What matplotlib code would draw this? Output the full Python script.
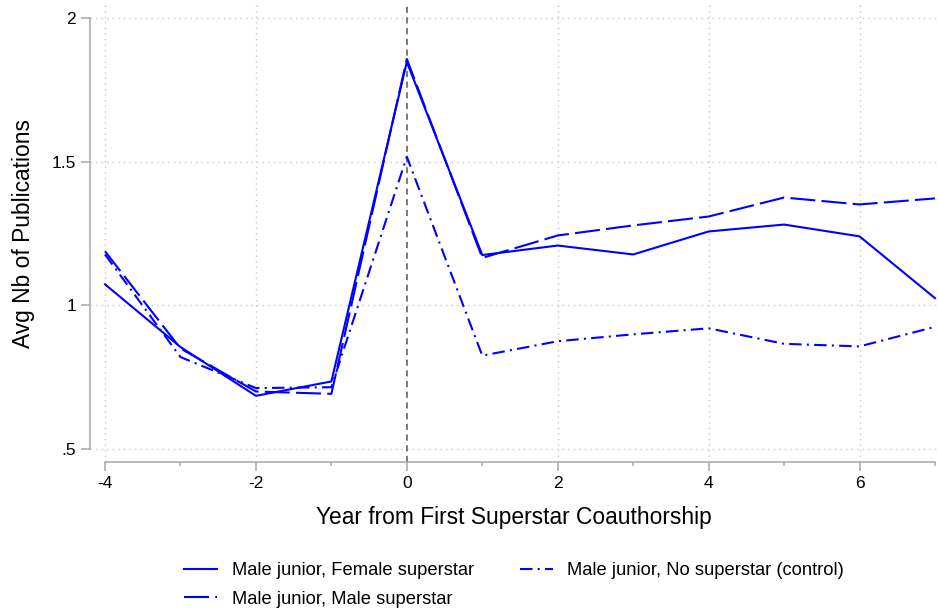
import matplotlib
matplotlib.use('Agg')
import matplotlib.pyplot as plt

plt.rcParams['font.family'] = ['Liberation Sans', 'DejaVu Sans']

# Years relative to first superstar coauthorship
years = [-4, -3, -2, -1, 0, 1, 2, 3, 4, 5, 6, 7]

# Average number of publications per group
female_star = [1.073, 0.855, 0.685, 0.735, 1.847, 1.175, 1.208, 1.177, 1.257, 1.281, 1.240, 1.025]
male_star = [1.188, 0.850, 0.700, 0.692, 1.857, 1.165, 1.243, 1.278, 1.309, 1.375, 1.351, 1.372]
control = [1.177, 0.820, 0.712, 0.715, 1.517, 0.825, 0.875, 0.899, 0.920, 0.866, 0.857, 0.925]

labels = ['Male junior, Female superstar', 'Male junior, Male superstar',
          'Male junior, No superstar (control)']

ytick_vals = [0.5, 1, 1.5, 2]
ytick_labels = ['.5', '1', '1.5', '2']
xtick_major = [-4, -2, 0, 2, 4, 6]
xtick_labels = ['-4', '-2', '0', '2', '4', '6']
xtick_minor = [-3, -1, 1, 3, 5, 7]

fig = plt.figure(figsize=(9.38, 6.10), dpi=100)
ax = fig.add_axes([90 / 938, 148 / 610, 848 / 938, 457 / 610])

# light dotted grid
for y in ytick_vals:
    ax.axhline(y, color='#c8c8c8', lw=1.0, ls=(0, (1, 3)), zorder=0)
for x in [-4, -2, 2, 4, 6]:
    ax.axvline(x, color='#c8c8c8', lw=1.0, ls=(0, (1, 3)), zorder=0)
ax.axvline(0, color='#555555', lw=1.1, ls=(0, (4, 3)), zorder=1)

blue = '#0000ff'
ax.plot(years, female_star, color=blue, lw=1.5, ls='-', label=labels[0], zorder=3)
ax.plot(years, male_star, color=blue, lw=1.5, ls=(0, (12, 3)), label=labels[1], zorder=3)
ax.plot(years, control, color=blue, lw=1.5, ls=(0, (6, 2.5, 1, 2.5)), label=labels[2], zorder=3)

ax.set_xlim(-4.199, 7.04)
ax.set_ylim(0.4548, 2.045)

for side in ['top', 'right']:
    ax.spines[side].set_visible(False)
ax.spines['left'].set_bounds(0.5, 2)
ax.spines['bottom'].set_bounds(-4, 7)
for side in ['left', 'bottom']:
    ax.spines[side].set_color('#a8a8a8')
    ax.spines[side].set_linewidth(1.1)

ax.set_yticks(ytick_vals)
ax.set_yticklabels(ytick_labels)
ax.set_xticks(xtick_major)
ax.set_xticklabels(xtick_labels)
ax.set_xticks(xtick_minor, minor=True)
ax.tick_params(axis='both', which='major', length=6.5, width=1.1, color='#a8a8a8',
               labelsize=12.5, pad=3.5)
ax.tick_params(axis='x', which='minor', length=3.2, width=1.1, color='#a8a8a8')

ax.set_xlabel('Year from First Superstar Coauthorship', fontsize=16.4, labelpad=11)
ax.set_ylabel('Avg Nb of Publications', fontsize=16.4, labelpad=12)

fig.legend(loc='center', bbox_to_anchor=(514 / 938, 1 - 585 / 610), ncol=2,
           frameon=False, fontsize=13.2, handlelength=1.8, handletextpad=0.77,
           columnspacing=2.5, labelspacing=0.62, borderpad=0)

fig.savefig('out.png', dpi=100)
